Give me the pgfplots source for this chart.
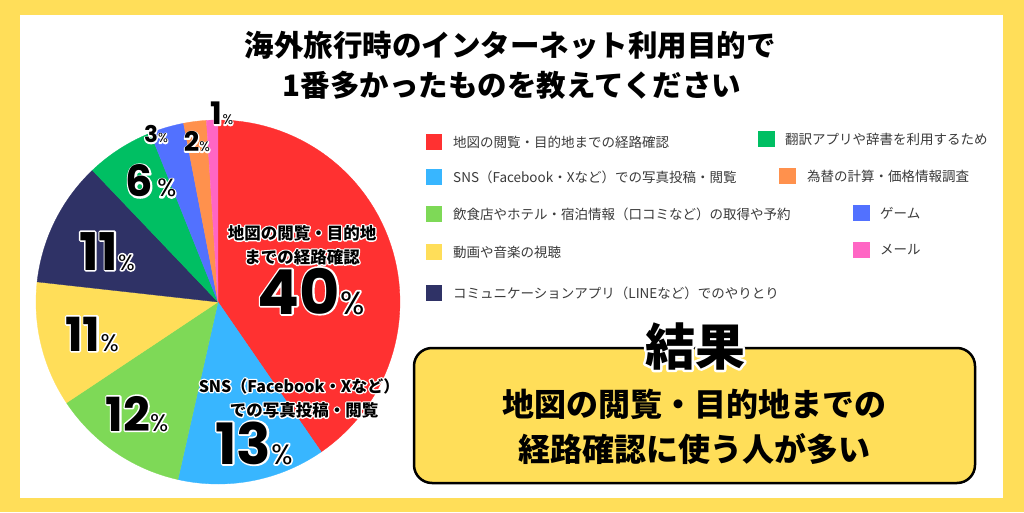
\documentclass[border=0pt]{standalone}
\usepackage{pgfplots}
\pgfplotsset{compat=1.18}
\usepackage{fontspec}
\setmainfont{Noto Sans CJK JP}
\newfontfamily\numfont{Poppins}
\definecolor{bgY}{HTML}{FFDE59}
\definecolor{cRed}{HTML}{FF3131}
\definecolor{cSky}{HTML}{38B6FF}
\definecolor{cLime}{HTML}{7ED957}
\definecolor{cYel}{HTML}{FFDE59}
\definecolor{cNavy}{HTML}{2F3266}
\definecolor{cGreen}{HTML}{00BF63}
\definecolor{cViolet}{HTML}{5271FF}
\definecolor{cOrange}{HTML}{FF914D}
\definecolor{cPink}{HTML}{FF66C4}
\definecolor{legtxt}{HTML}{3A3A3A}
% slice: colour, cumulative start (%), value (%); total = 99
\newcommand{\slice}[3]{\addplot[fill=#1,draw=#1,line width=0.3pt,domain={90-360*(#2+#3)/99}:{90-360*#2/99},samples=60,variable=\t] ({cos(\t)},{sin(\t)}) -- (axis cs:0,0) -- cycle;}
% outlined text: white stroked copy underneath, black copy on top
\newcommand{\halo}[4][]{%
  \node[inner sep=0pt,#1,text=white] at (#2) {\special{pdf:literal direct 2 Tr #3 w 1 j 1 J}#4\special{pdf:literal direct 0 Tr}};%
  \node[inner sep=0pt,#1] at (#2) {#4};}
\newcommand{\pct}[4]{{\numfont\bfseries\fontsize{#1}{#1}\selectfont #3}{\numfont\fontsize{#2}{#2}\selectfont #4\%}}
\begin{document}
\begin{tikzpicture}
\fill[bgY] (0,0) rectangle (1024pt,512pt);
\fill[white] (20pt,14pt) rectangle (1003pt,497pt);
\begin{axis}[hide axis, x=182pt, y=182pt, xmin=-1, xmax=1, ymin=-1, ymax=1,
  anchor=center, at={(218pt,210pt)}, clip=false]
\slice{cRed}{0}{40}
\slice{cSky}{40}{13}
\slice{cLime}{53}{12}
\slice{cYel}{65}{11}
\slice{cNavy}{76}{11}
\slice{cGreen}{87}{6}
\slice{cViolet}{93}{3}
\slice{cOrange}{96}{2}
\slice{cPink}{98}{1}
\end{axis}
\begin{scope}[yshift=512pt, x=1pt, y=-1pt]
% title
\node[font=\bfseries\fontsize{29.5}{29.5}\selectfont] at (510,45) {海外旅行時のインターネット利用目的で};
\node[font=\bfseries\fontsize{29.5}{29.5}\selectfont] at (512,85) {1番多かったものを教えてください};
% pie labels
\halo[font=\bfseries\fontsize{16.5}{16.5}\selectfont]{302,233}{2.6}{地図の閲覧・目的地}
\halo[font=\bfseries\fontsize{16.5}{16.5}\selectfont]{302,257}{2.6}{までの経路確認}
\halo[anchor=base]{311,314}{3.6}{\pct{62}{32}{40}{}}
\halo[font=\bfseries\fontsize{16}{16}\selectfont]{299,386}{2.6}{SNS（Facebook・Xなど）}
\halo[font=\bfseries\fontsize{16.5}{16.5}\selectfont]{304,410}{2.6}{での写真投稿・閲覧}
\halo[anchor=base]{254,464}{3.6}{\pct{57}{28}{13}{}}
\halo[anchor=base]{137,431}{3.2}{\pct{47}{24}{12}{}}
\halo[anchor=base]{92,351}{3.2}{\pct{47}{24}{11}{}}
\halo[anchor=base]{107,270}{3.2}{\pct{52}{22}{11}{}}
\halo[anchor=base]{151,197}{3.2}{\pct{43}{25}{6}{\,}}
\halo[anchor=base]{156,143}{2.4}{\pct{23}{13}{3}{}}
\halo[anchor=base]{197,152}{2.4}{\pct{27}{14}{2}{}}
\halo[anchor=base]{222,125}{2.4}{\pct{31}{14}{1}{}}
% legend
\begin{scope}[every node/.style={anchor=west,inner sep=0pt,text=legtxt,font=\fontsize{13.5}{13.5}\selectfont}]
\fill[cRed] (426,134) rectangle (442,150); \node at (453,142) {地図の閲覧・目的地までの経路確認};
\fill[cSky] (426,169) rectangle (442,185); \node at (453,177) {SNS（Facebook・Xなど）での写真投稿・閲覧};
\fill[cLime] (426,206) rectangle (442,222); \node at (453,214) {飲食店やホテル・宿泊情報（口コミなど）の取得や予約};
\fill[cYel] (426,244) rectangle (442,260); \node at (453,252) {動画や音楽の視聴};
\fill[cNavy] (426,285) rectangle (442,301); \node at (453,293) {コミュニケーションアプリ（LINEなど）でのやりとり};
\fill[cGreen] (758,131) rectangle (775,147); \node at (785,139) {翻訳アプリや辞書を利用するため};
\fill[cOrange] (779,168) rectangle (796,184); \node at (807,176) {為替の計算・価格情報調査};
\fill[cViolet] (853,205) rectangle (870,221); \node at (880,213) {ゲーム};
\fill[cPink] (853,242) rectangle (870,258); \node at (880,250) {メール};
\end{scope}
% result box
\draw[line width=2.5pt, fill=bgY, rounded corners=18pt] (414,348) rectangle (975,483);
\halo[font=\bfseries\fontsize{50}{50}\selectfont]{695,346}{5}{結果}
\node[font=\bfseries\fontsize{32}{32}\selectfont] at (694,404) {地図の閲覧・目的地までの};
\node[font=\bfseries\fontsize{32}{32}\selectfont] at (694,449) {経路確認に使う人が多い};
\end{scope}
\end{tikzpicture}
\end{document}
